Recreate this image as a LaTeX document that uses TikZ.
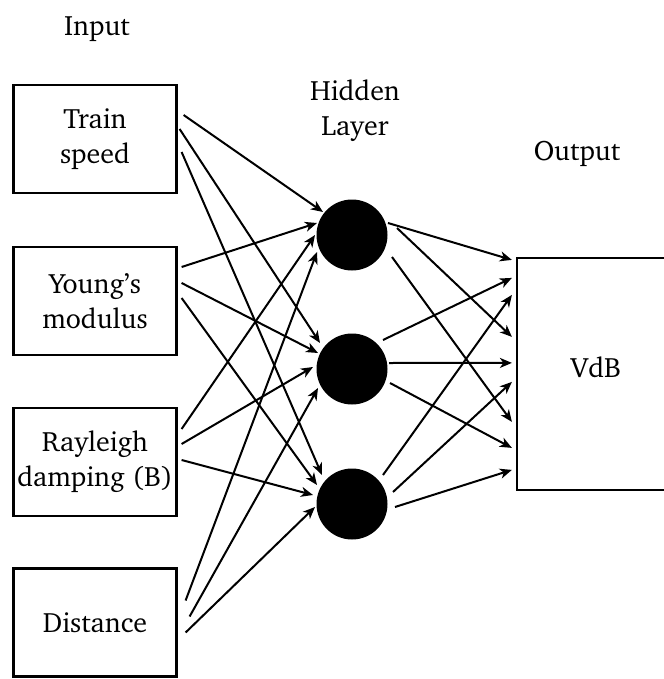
\documentclass[tikz,border=0pt]{standalone}
\usepackage[T1]{fontenc}
\usepackage{charter}
\usetikzlibrary{arrows.meta,calc}
\begin{document}
\begin{tikzpicture}[x=1pt,y=-1pt,
  every node/.style={font=\fontsize{28}{35}\selectfont},
  inbox/.style={draw, line width=2.2pt, minimum width=163pt, minimum height=108pt, align=center, inner sep=0pt},
  outbox/.style={draw, line width=2.2pt, minimum width=183pt, minimum height=232pt, inner sep=0pt},
  neuron/.style={circle, fill=black, minimum size=71pt, inner sep=0pt},
  conn/.style={-{Stealth[length=12pt,width=10pt,inset=3.5pt]}, line width=2pt},
  lbl/.style={align=center, inner sep=0pt}]
\useasboundingbox (0,0) rectangle (663,679);

\node[lbl] (tin) at (97,29) {Input};
\node[lbl] (thid) at (355,111) {Hidden\\Layer};
\node[lbl] (tout) at (577,154) {Output};

\node[inbox] (i1) at (95,139) {Train\\speed};
\node[inbox] (i2) at (95,301) {Young's\\modulus};
\node[inbox] (i3) at (95,462) {Rayleigh\\damping (B)};
\node[inbox] (i4) at (95,622.5) {Distance};

\node[neuron] (h1) at (352,235) {};
\node[neuron] (h2) at (352,369) {};
\node[neuron] (h3) at (352,504) {};

\node[outbox] (o) at (608.5,374) {};
\node[lbl] (vdb) at (596,367) {VdB};

% input -> hidden
\draw[conn] ($(i1.east)+(6,-24)$) -- ($(h1)+(-29,-23)$);
\draw[conn] ($(i1.east)+(2,-10)$) -- ($(h2)+(-32,-26)$);
\draw[conn] ($(i1.east)+(4,13)$) -- ($(h3)+(-30,-29)$);
\draw[conn] ($(i2.east)+(4,-34)$) -- ($(h1)+(-35,-12)$);
\draw[conn] ($(i2.east)+(4,-18)$) -- ($(h2)+(-34,-16)$);
\draw[conn] ($(i2.east)+(4,-3)$) -- ($(h3)+(-35,-19)$);
\draw[conn] ($(i3.east)+(4,-33)$) -- ($(h1)+(-37,0)$);
\draw[conn] ($(i3.east)+(4,-18)$) -- ($(h2)+(-39,-2)$);
\draw[conn] ($(i3.east)+(4,-2)$) -- ($(h3)+(-39,-9)$);
\draw[conn] ($(i4.east)+(8,-22)$) -- ($(h1)+(-35,17)$);
\draw[conn] ($(i4.east)+(12,-6)$) -- ($(h2)+(-34,19)$);
\draw[conn] ($(i4.east)+(8,10)$) -- ($(h3)+(-37,3)$);

% hidden -> output
\draw[conn] ($(h1)+(36,-12)$) -- ($(o.north west)+(-4,3)$);
\draw[conn] ($(h1)+(45,-7)$) -- ($(o.north west)+(-4,80)$);
\draw[conn] ($(h1)+(40,22)$) -- ($(o.north west)+(-4,165)$);
\draw[conn] ($(h2)+(31,-29)$) -- ($(o.north west)+(-4,21)$);
\draw[conn] ($(h2)+(37,-6)$) -- ($(o.north west)+(-4,106)$);
\draw[conn] ($(h2)+(38,14)$) -- ($(o.north west)+(-4,191)$);
\draw[conn] ($(h3)+(31,-29)$) -- ($(o.north west)+(-4,38)$);
\draw[conn] ($(h3)+(41,-12)$) -- ($(o.north west)+(-4,125)$);
\draw[conn] ($(h3)+(43,3)$) -- ($(o.north west)+(-4,213)$);
\end{tikzpicture}
\end{document}
